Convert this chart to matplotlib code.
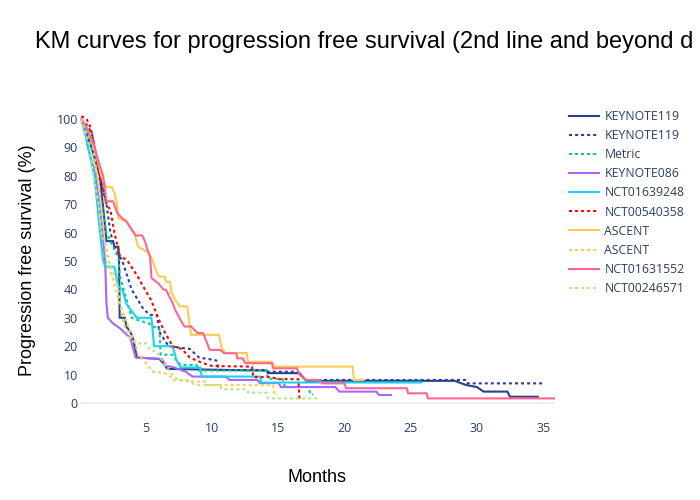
import matplotlib
matplotlib.use('Agg')
import matplotlib.pyplot as plt

# ---- data (months, % progression free) ----
kn119_t = [0.1, 0.5, 1.0, 1.5, 1.9, 2.0, 2.5, 2.6, 2.9, 2.95, 3.0, 3.4, 3.5, 3.8, 4.0, 4.3, 6.0, 6.3, 6.6,
           9.0, 14.1, 14.2, 16.6, 16.8, 17.1, 28.3, 29.2, 30.0, 30.5, 32.3, 32.5, 34.6]
kn119_s = [100, 95, 88, 80, 62, 57, 57, 55, 55, 51, 30, 30, 27, 25, 23, 16, 15.5, 14, 12,
           11.8, 11.4, 10.5, 10.5, 9.3, 7.8, 7.8, 6.3, 5.6, 4.0, 4.0, 2.2, 2.2]

kn119b_t = [0.1, 0.5, 0.9, 1.2, 1.5, 2.0, 2.3, 2.6, 3.2, 3.9, 4.8, 5.3, 5.8, 6.0, 6.7, 8.3, 9.0, 10.3,
            10.5, 14.1, 14.2, 16.4, 17.1, 29.2, 29.3, 35.0]
kn119b_s = [100, 98, 95, 88, 80, 70, 60, 55, 50, 40, 33, 31, 31, 25, 20, 19, 16, 15,
            11.6, 11.6, 11, 11, 8.1, 8.1, 6.9, 6.9]

metric_t = [0.1, 0.6, 1.0, 1.3, 2.0, 2.5, 2.9, 3.0, 3.3, 3.6, 3.9, 4.5, 5.2, 5.5, 6.0, 6.1, 7.0, 7.3, 7.6,
            8.8, 9.0, 14.1, 14.2, 15.3, 15.5, 17.3, 17.4, 17.6]
metric_s = [100, 95, 88, 80, 60, 55, 51, 45, 40, 35, 30, 29, 28, 27, 26, 17, 17, 15, 13.4,
            13.4, 11.4, 11.4, 8.5, 8.5, 5.6, 5.6, 3, 3]

kn086_t = [0.1, 0.3, 0.6, 1.2, 1.6, 1.9, 2.0, 2.1, 2.5, 3.1, 3.3, 3.8, 4.2, 6.2, 6.5, 7.0, 8.0, 8.5,
           11.0, 11.3, 13.4, 13.6, 15.0, 15.2, 19.3, 19.6, 22.4, 22.6, 23.5]
kn086_s = [100, 98, 90, 80, 65, 50, 35, 30, 28, 26, 25, 23, 16, 15.5, 13, 12.7, 11, 9.3,
           9.3, 8.1, 8.1, 7, 7, 5.6, 5.6, 4, 4, 2.8, 2.8]

nct639_t = [0.1, 0.5, 0.8, 1.1, 1.4, 1.75, 1.9, 2.6, 2.9, 3.2, 3.5, 3.8, 4.3, 5.4, 5.6, 7.0, 7.3, 7.6,
            9.1, 9.2, 13.6, 13.7, 25.8]
nct639_s = [100, 92.6, 86, 80, 65, 50, 48, 48, 41, 40, 35, 33, 30, 30, 20, 20, 15, 12.5,
            12.5, 9.3, 9.3, 7.2, 7.2]

nct540_t = [0.1, 0.5, 0.8, 1.1, 1.5, 2.0, 2.3, 2.6, 3.0, 3.6, 4.3, 4.9, 5.4, 5.9, 6.4, 7.0, 7.7, 8.3,
            8.8, 9.3, 10.0, 13.0, 13.1, 14.5, 14.9, 16.5, 16.6]
nct540_s = [101, 100, 97, 90, 80, 70, 68, 60, 52, 50, 45, 40, 36, 30, 25, 20, 19, 16,
            15, 14, 13, 12.8, 9.1, 9.1, 8.4, 8.4, 0.5]

ascent_t = [0.1, 0.5, 1.1, 1.6, 2.0, 2.4, 2.6, 2.8, 2.9, 3.5, 3.8, 4.1, 4.4, 5.0, 5.2, 5.5, 5.8, 6.0,
            6.4, 6.5, 6.8, 6.9, 7.2, 7.55, 8.1, 8.4, 10.5, 10.7, 11.0, 12.6, 12.7, 14.5, 14.7, 20.6,
            20.7, 21.4]
ascent_s = [100, 97, 90, 80, 76, 76, 74, 70, 65, 64, 62, 60, 55, 53.5, 52.8, 50, 46, 44.5,
            44.5, 42.7, 42.7, 39.2, 36.3, 34, 34, 24, 24, 19.5, 17.6, 17.6, 14.5, 14.5, 12.8, 12.8,
            8.1, 8.1]

ascentb_t = [0.1, 0.5, 1.0, 1.3, 1.8, 2.0, 2.4, 2.7, 3.0, 3.4, 3.8, 4.1, 4.4, 4.8, 5.5, 6.4, 6.7, 7.0,
             8.3, 8.6, 9.5, 9.6, 14.6, 14.7, 14.9]
ascentb_s = [100, 96, 90, 80, 60, 50, 45, 40, 35, 30, 25, 22, 17, 15, 11, 10.5, 10, 8,
             8, 7.5, 7.5, 6.3, 6.3, 2.8, 2.8]

nct631_t = [0.1, 0.5, 1.1, 1.4, 1.75, 2.0, 2.5, 2.8, 3.2, 3.5, 3.9, 4.2, 4.7, 4.9, 5.1, 5.3, 5.4, 5.9,
            6.3, 6.5, 6.8, 7.0, 7.2, 7.6, 7.9, 8.4, 8.9, 9.3, 9.6, 9.8, 10.6, 10.9, 11.8, 11.9, 12.3,
            12.5, 14.5, 14.6, 16.4, 16.6, 17.1, 18.1, 18.3, 20.0, 20.1, 24.7, 24.8, 26.2, 26.3, 35.9]
nct631_s = [100, 97, 90, 85, 80, 71, 71, 67, 65, 64, 61, 59, 59, 57, 54, 51.5, 44, 42.2,
            40, 39.8, 37, 35.2, 32.7, 29.2, 26.9, 26.9, 24.6, 24.6, 21.1, 18.7, 18.7, 17.5, 17.5, 15.7, 15.7,
            14, 14, 12.2, 12.2, 9.9, 8.1, 8.1, 6.9, 6.9, 5.2, 5.2, 3.4, 3.4, 1.6, 1.6]

nct246_t = [0.1, 0.4, 0.75, 1.0, 1.4, 1.6, 2.0, 2.2, 2.6, 2.9, 3.2, 3.5, 3.9, 4.4, 5.0, 5.3, 5.8, 6.1,
            6.4, 6.8, 7.4, 7.7, 8.3, 8.7, 10.6, 10.7, 12.6, 12.7, 14.1, 14.2, 18.0]
nct246_s = [100, 95, 90, 80, 70, 60, 55, 50, 45, 40, 30, 25, 22, 21, 21, 18.7, 18, 15.8,
            13.4, 11, 8.1, 8, 7.5, 6.3, 6.3, 4.8, 4.8, 3.6, 3.6, 1.6, 1.6]

x_ticks = [5, 10, 15, 20, 25, 30, 35]
y_ticks = [0, 10, 20, 30, 40, 50, 60, 70, 80, 90, 100]

#===============================================================================
NAVY = '#2a3f8f'
DOT = (0, (1.45, 1.45))
series = [
    ('KEYNOTE119',  kn119_t,   kn119_s,   NAVY,      '-'),
    ('KEYNOTE119',  kn119b_t,  kn119b_s,  NAVY,      DOT),
    ('Metric',      metric_t,  metric_s,  '#00CC96', DOT),
    ('KEYNOTE086',  kn086_t,   kn086_s,   '#AB63FA', '-'),
    ('NCT01639248', nct639_t,  nct639_s,  '#19D3F3', '-'),
    ('NCT00540358', nct540_t,  nct540_s,  '#FF0000', DOT),
    ('ASCENT',      ascent_t,  ascent_s,  '#FECB52', '-'),
    ('ASCENT',      ascentb_t, ascentb_s, '#FECB52', DOT),
    ('NCT01631552', nct631_t,  nct631_s,  '#FF6692', '-'),
    ('NCT00246571', nct246_t,  nct246_s,  '#B6E880', DOT),
]

TXT = '#2a3f5f'
fig = plt.figure(figsize=(7.0, 5.0), dpi=100)
ax = fig.add_axes([80/700, 80/500, 475/700, 320/500])

for name, t, s, color, ls in series:
    ax.plot(t, s, color=color, linestyle=ls, linewidth=1.5, label=name, solid_joinstyle='miter')

ax.set_xlim(0, 35.9)
ax.set_ylim(-6.0, 106.7)
ax.axhline(0, color='#EBF0F8', linewidth=1.5, zorder=0)
ax.set_xticks(x_ticks)
ax.set_yticks(y_ticks)
for side in ['top', 'right', 'bottom', 'left']:
    ax.spines[side].set_visible(False)
ax.tick_params(length=0, labelsize=9, labelcolor=TXT)
ax.tick_params(axis='x', pad=1.5)
ax.tick_params(axis='y', pad=1.5)
for lbl in ax.get_xticklabels() + ax.get_yticklabels():
    lbl.set_family('Open Sans')

fig.text(35/700, 1 - 42/500, 'KM curves for progression free survival (2nd line and beyond d',
         fontsize=17, family='Liberation Sans', color='black', ha='left', va='center')
fig.text(28/700, 1 - 260/500, 'Progression free survival (%)', rotation=90,
         fontsize=13, family='Liberation Sans', color='black', ha='center', va='center')
fig.text(317/700, 1 - 478/500, 'Months',
         fontsize=13, family='Liberation Sans', color='black', ha='center', va='center')

leg = ax.legend(loc='upper left', bbox_to_anchor=(558/700, 1 - 99/500), bbox_transform=fig.transFigure,
                frameon=False, handlelength=2.45, handletextpad=0.45, labelspacing=0.5,
                prop={'family': 'Open Sans', 'size': 8.8})
for txt in leg.get_texts():
    txt.set_color(TXT)

fig.savefig('out.png', dpi=100)
